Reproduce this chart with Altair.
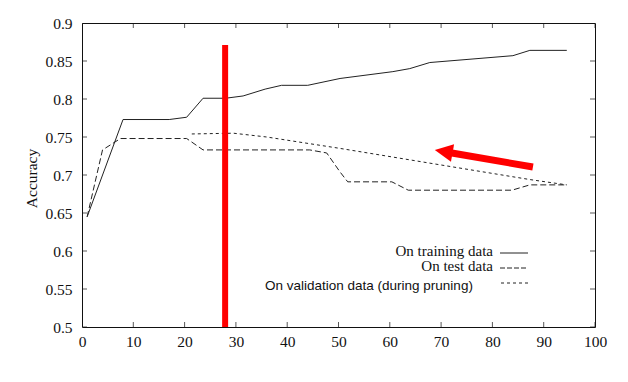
import altair as alt
import pandas as pd

# ---- data ----
train_x = [1, 8, 17, 20.4, 23.6, 28, 31.4, 35.7, 38.9, 44, 50.3, 60.6, 63.9, 67.8, 84, 87.3, 94.5]
train_y = [0.645, 0.773, 0.773, 0.776, 0.801, 0.801, 0.804, 0.813, 0.818, 0.818, 0.827, 0.836, 0.840, 0.848, 0.857, 0.864, 0.864]

test_x = [1, 4, 7.5, 20.4, 23.6, 44.4, 47.7, 50.3, 51.8, 60.4, 63.6, 83.8, 87.3, 94.5]
test_y = [0.645, 0.733, 0.748, 0.748, 0.733, 0.733, 0.729, 0.704, 0.691, 0.691, 0.680, 0.680, 0.687, 0.687]

val_x = [21.4, 29.5, 36, 50.3, 87.3, 94.5]
val_y = [0.754, 0.755, 0.750, 0.735, 0.694, 0.687]

x_ticks = [0, 10, 20, 30, 40, 50, 60, 70, 80, 90, 100]
y_ticks = [0.5, 0.55, 0.6, 0.65, 0.7, 0.75, 0.8, 0.85, 0.9]

marker_x = [27.9]
marker_y = [0.5]
marker_y2 = [0.871]

arrow_tail_x = [87.9]
arrow_tail_y = [0.7105]
arrow_neck_x = [72.1]
arrow_neck_y = [0.729]
arrow_head_x = [70.5]
arrow_head_y = [0.731]

legend_labels = ["On training data", "On test data", "On validation data (during pruning)"]

W, H = 513, 304
SERIF = "'Liberation Serif', 'Times New Roman', Times, serif"
SANS = "'Liberation Sans', Arial, sans-serif"
LINE = "#222222"
RED = "#ff0000"

xs = alt.Scale(domain=[0, 100], nice=False, zero=False)
ys = alt.Scale(domain=[0.5, 0.9], nice=False, zero=False)

train_df = pd.DataFrame({"x": train_x, "y": train_y})
test_df = pd.DataFrame({"x": test_x, "y": test_y})
val_df = pd.DataFrame({"x": val_x, "y": val_y})

x_axis = alt.Axis(values=x_ticks, format="d", ticks=False, domain=False, grid=False,
                  labelFont=SERIF, labelFontSize=15.5, labelColor="#111", labelPadding=7,
                  labelOverlap=False, labelFlush=False, title=None)
y_axis = alt.Axis(values=y_ticks, format=".2~f", ticks=False, domain=False, grid=False,
                  labelFont=SERIF, labelFontSize=15.5, labelColor="#111", labelPadding=10,
                  labelOverlap=False, labelFlush=False,
                  title="Accuracy", titleFont=SERIF, titleFontSize=15.5, titleFontWeight="normal",
                  titleColor="#111", titleAngle=270, titleX=-51, titleY=H / 2 + 3,
                  titleAlign="center", titleBaseline="middle")

X = lambda f: alt.X(f, scale=xs, axis=x_axis)
Y = lambda f: alt.Y(f, scale=ys, axis=y_axis)

train = alt.Chart(train_df).mark_line(color=LINE, strokeWidth=1).encode(x=X("x:Q"), y=Y("y:Q"))
test = alt.Chart(test_df).mark_line(color=LINE, strokeWidth=1, strokeDash=[6, 3]).encode(
    x=X("x:Q"), y=Y("y:Q"))
val = alt.Chart(val_df).mark_line(color=LINE, strokeWidth=1, strokeDash=[3, 3]).encode(
    x=X("x:Q"), y=Y("y:Q"))

# inward ticks on all four sides (clipped to plot area)
xt = pd.DataFrame({"x": x_ticks, "lo": [0.5] * len(x_ticks), "hi": [0.9] * len(x_ticks)})
yt = pd.DataFrame({"y": y_ticks, "lo": [0] * len(y_ticks), "hi": [100] * len(y_ticks)})
tick_bottom = alt.Chart(xt).mark_tick(orient="vertical", size=10, thickness=1, color="#111", clip=True).encode(
    x=X("x:Q"), y=Y("lo:Q"))
tick_top = alt.Chart(xt).mark_tick(orient="vertical", size=10, thickness=1, color="#111", clip=True).encode(
    x=X("x:Q"), y=Y("hi:Q"))
tick_left = alt.Chart(yt).mark_tick(orient="horizontal", size=10, thickness=1, color="#111", clip=True).encode(
    y=Y("y:Q"), x=X("lo:Q"))
tick_right = alt.Chart(yt).mark_tick(orient="horizontal", size=10, thickness=1, color="#111", clip=True).encode(
    y=Y("y:Q"), x=X("hi:Q"))

# red vertical marker
mk_df = pd.DataFrame({"x": marker_x, "y": marker_y, "y2": marker_y2})
marker = alt.Chart(mk_df).mark_rule(color=RED, strokeWidth=6, strokeCap="butt").encode(
    x=X("x:Q"), y=Y("y:Q"), y2="y2:Q")

# red arrow
ar_df = pd.DataFrame({"x": arrow_tail_x, "y": arrow_tail_y, "x2": arrow_neck_x, "y2": arrow_neck_y})
shaft = alt.Chart(ar_df).mark_rule(color=RED, strokeWidth=7, strokeCap="butt").encode(
    x=X("x:Q"), y=Y("y:Q"), x2="x2:Q", y2="y2:Q")
hd_df = pd.DataFrame({"x": arrow_head_x, "y": arrow_head_y})
head = alt.Chart(hd_df).mark_point(shape="M -1 0 L 1 -1 L 1 1 Z", filled=True, color=RED,
                                   opacity=1, size=324, angle=10, strokeWidth=0).encode(
    x=X("x:Q"), y=Y("y:Q"))

# legend (drawn by hand, like the gnuplot key)
one = pd.DataFrame({"a": [0]})
lg_train = alt.Chart(one).mark_text(text=legend_labels[0], font=SERIF, fontSize=15, align="right",
                                     baseline="middle", color="#111").encode(x=alt.value(411), y=alt.value(228))
lg_test = alt.Chart(one).mark_text(text=legend_labels[1], font=SERIF, fontSize=15, align="right",
                                    baseline="middle", color="#111").encode(x=alt.value(411), y=alt.value(243))
lg_val = alt.Chart(one).mark_text(text=legend_labels[2], font=SANS, fontSize=13.5, align="left",
                                   baseline="middle", color="#111").encode(x=alt.value(183), y=alt.value(263))
s_train = alt.Chart(one).mark_rule(color=LINE, strokeWidth=1).encode(
    x=alt.value(418), x2=alt.value(446), y=alt.value(230))
s_test = alt.Chart(one).mark_rule(color=LINE, strokeWidth=1, strokeDash=[5, 2]).encode(
    x=alt.value(418), x2=alt.value(446), y=alt.value(245))
s_val = alt.Chart(one).mark_rule(color=LINE, strokeWidth=1, strokeDash=[3, 3]).encode(
    x=alt.value(419), x2=alt.value(447), y=alt.value(260))

chart = alt.layer(
    train, test, val,
    tick_bottom, tick_top, tick_left, tick_right,
    marker, shaft, head,
    lg_train, lg_test, lg_val, s_train, s_test, s_val,
).properties(
    width=W, height=H,
    autosize=alt.AutoSizeParams(type="none"),
    padding={"left": 74, "top": 15, "right": 25, "bottom": 40},
    background="white",
).configure_view(stroke="#111", strokeWidth=1).configure_axis(labelOverlap=False)

chart.save("out.html", embed_options={"renderer": "svg", "actions": False})
